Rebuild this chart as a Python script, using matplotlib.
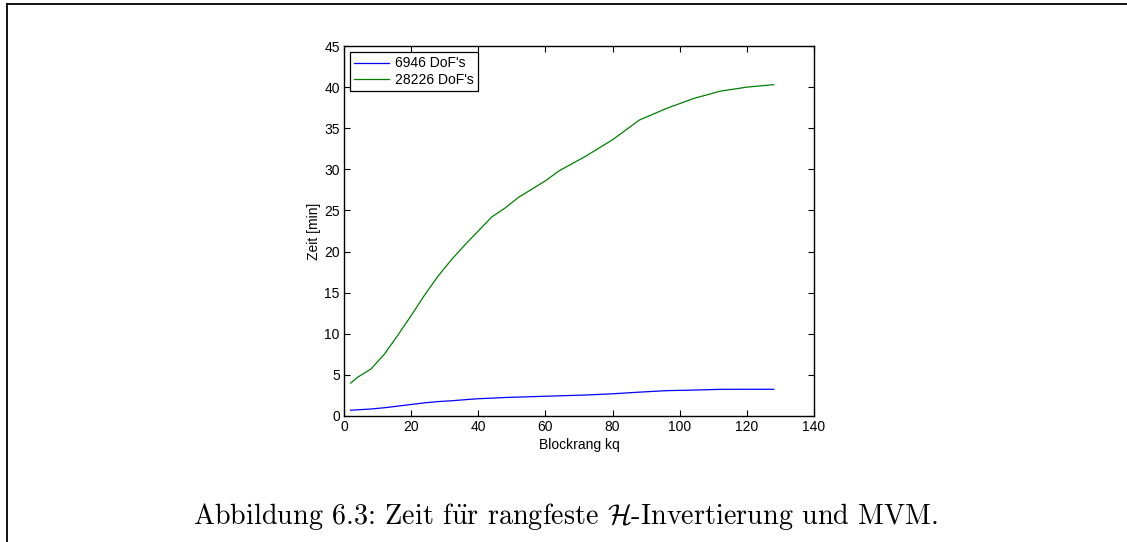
#!/usr/bin/env python3
"""Zeit fuer rangfeste H-Invertierung und MVM, ueber dem Blockrang kq."""

import matplotlib

matplotlib.use("Agg")
import matplotlib.pyplot as plt
from matplotlib.lines import Line2D

# Blockrang kq
blockrang = [2, 4, 8, 12, 16, 20, 24, 28, 32, 36, 40, 44, 48, 52, 56, 60, 64,
             72, 80, 88, 96, 104, 112, 120, 128]
# Zeit [min]
zeit_6946 = [0.70, 0.75, 0.85, 1.00, 1.20, 1.40, 1.60, 1.75, 1.85, 1.98, 2.10,
             2.17, 2.25, 2.30, 2.35, 2.40, 2.45, 2.55, 2.70, 2.90, 3.08, 3.15,
             3.24, 3.25, 3.25]
zeit_28226 = [4.0, 4.7, 5.7, 7.5, 9.8, 12.2, 14.7, 17.0, 19.0, 20.8, 22.5,
              24.2, 25.3, 26.6, 27.6, 28.6, 29.8, 31.6, 33.6, 36.0, 37.4,
              38.6, 39.5, 40.0, 40.3]
series_labels = ["6946 DoF's", "28226 DoF's"]

x_ticks = list(range(0, 141, 20))
y_ticks = list(range(0, 46, 5))

caption = (r"Abbildung 6.3: Zeit f$\ddot{\mathrm{u}}$r rangfeste "
           r"$\mathcal{H}$-Invertierung und MVM.")


def main() -> None:
    plt.rcParams["font.family"] = ["Liberation Sans", "DejaVu Sans"]
    plt.rcParams["mathtext.fontset"] = "cm"

    fig = plt.figure(figsize=(11.27, 5.42), dpi=100)
    ax = fig.add_axes([0.3052, 0.2325, 0.4171, 0.6826])

    ax.plot(blockrang, zeit_6946, color="#0000ff", linewidth=0.9, label=series_labels[0])
    ax.plot(blockrang, zeit_28226, color="#008000", linewidth=0.9, label=series_labels[1])

    ax.set_xlim(0, 140)
    ax.set_ylim(0, 45)
    ax.set_xticks(x_ticks)
    ax.set_yticks(y_ticks)
    ax.tick_params(direction="in", top=True, right=True, length=4, width=0.8,
                   labelsize=10, pad=3)
    for spine in ax.spines.values():
        spine.set_linewidth(1.0)

    ax.set_xlabel("Blockrang kq", fontsize=10, labelpad=3)
    ax.set_ylabel("Zeit [min]", fontsize=10, labelpad=2)

    legend = ax.legend(loc="upper left", fontsize=10, fancybox=False,
                       edgecolor="black", framealpha=1.0, handlelength=2.5,
                       borderaxespad=0.45, borderpad=0.3, labelspacing=0.15,
                       handletextpad=0.4)
    legend.get_frame().set_linewidth(0.9)

    fig.text(0.5015, 0.033, caption, ha="center", va="baseline",
             fontsize=20.3, family="cmr10")

    # Seitenrahmen (nur oben und links sichtbar)
    fig.add_artist(Line2D([0.0062, 0.0062], [0.0, 0.9935], transform=fig.transFigure,
                          color="black", linewidth=1.3))
    fig.add_artist(Line2D([0.0062, 1.0], [0.9935, 0.9935], transform=fig.transFigure,
                          color="black", linewidth=1.3))

    fig.savefig("out.png", dpi=100)
    plt.close(fig)


if __name__ == "__main__":
    main()
